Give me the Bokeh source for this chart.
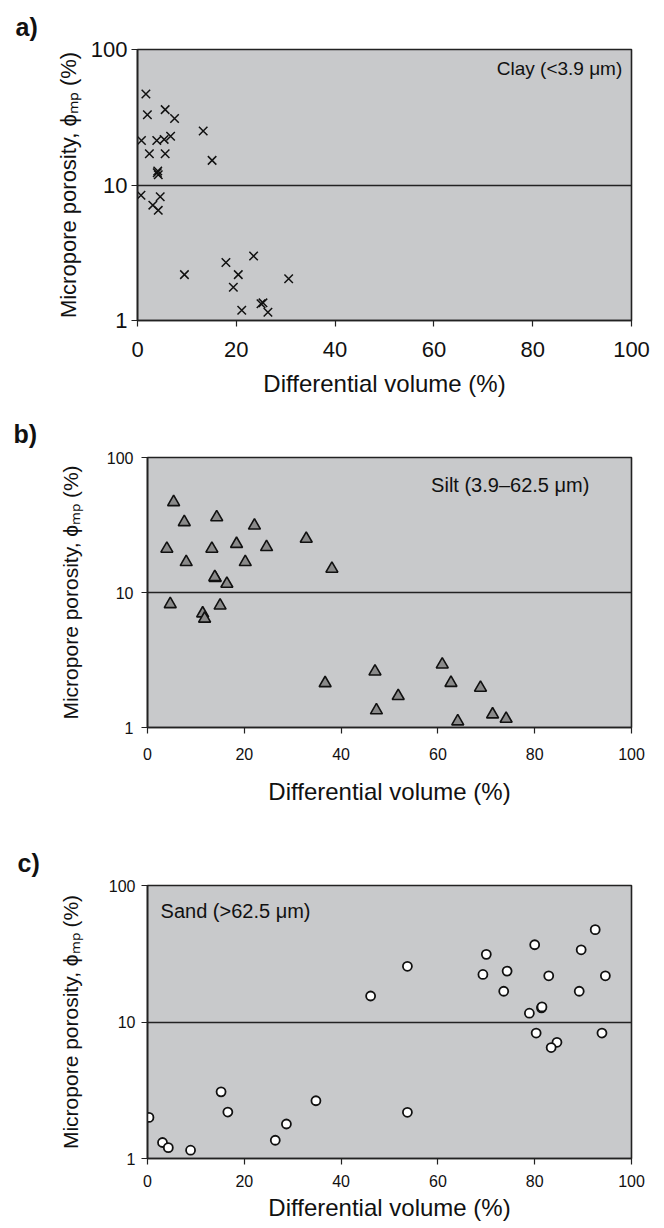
from bokeh.plotting import figure
from bokeh.layouts import column
from bokeh.models import FixedTicker, NumeralTickFormatter, Label, Range1d, Title
from bokeh.embed import file_html
from bokeh.resources import INLINE

# ---- data ----
clay_x = [1.7, 2.0, 5.6, 7.5, 13.3, 0.8, 3.9, 5.4, 6.7, 2.4, 5.6, 15.1, 4.1, 4.2, 4.0,
          0.7, 4.6, 3.1, 4.2, 9.5, 17.9, 20.4, 19.4, 23.5, 30.6, 21.1, 25.0, 25.4, 26.4]
clay_y = [47, 33, 36, 31, 25, 21.3, 21.3, 21.7, 22.9, 17, 17, 15.2, 12.7, 11.9, 12.3,
          8.4, 8.2, 7.1, 6.5, 2.18, 2.68, 2.18, 1.76, 2.99, 2.03, 1.19, 1.33, 1.35, 1.15]

silt_x = [5.4, 7.6, 14.3, 22.1, 4.0, 13.3, 18.4, 24.6, 32.8, 8.0, 20.2, 14.0, 13.9, 16.4,
          38.1, 4.7, 15.0, 11.4, 11.8, 36.7, 47.0, 47.3, 51.8, 60.9, 62.7, 68.8, 64.1, 71.3, 74.1]
silt_y = [46.7, 33.2, 36.1, 31.3, 21.1, 21.1, 22.9, 21.7, 25.0, 16.8, 16.8, 12.8, 13.0, 11.6,
          15.0, 8.2, 8.0, 7.0, 6.4, 2.13, 2.6, 1.34, 1.71, 2.93, 2.14, 1.97, 1.11, 1.25, 1.16]

sand_x = [0.3, 15.2, 16.6, 34.8, 28.7, 46.1, 3.1, 4.3, 8.9, 26.4, 53.7, 53.7, 70.0, 69.3,
          74.3, 73.6, 80.0, 82.9, 89.6, 92.5, 94.6, 89.2, 78.9, 81.4, 81.5, 80.3, 93.9, 84.6, 83.4]
sand_y = [2.0, 3.08, 2.19, 2.65, 1.79, 15.5, 1.31, 1.2, 1.15, 1.36, 25.6, 2.18, 31.3, 22.3,
          23.6, 16.8, 36.8, 21.8, 33.8, 47.5, 21.8, 16.8, 11.6, 12.7, 12.9, 8.3, 8.3, 7.1, 6.5]

x_ticks = [0, 20, 40, 60, 80, 100]
y_ticks = [1, 10, 100]

FONT = "Liberation Sans"
BG = "#c8c9cb"
YTITLE = "Micropore porosity, \u03d5\u2098\u209a (%)"
XTITLE = "Differential volume (%)"


def make_fig(width, height, b_top, b_bottom, b_left, b_right, tick_size,
             xl_standoff, xa_standoff, yl_standoff, ya_standoff, ytitle_size):
    p = figure(width=width, height=height, y_axis_type="log",
               x_range=Range1d(0, 100), y_range=Range1d(1, 100),
               output_backend="svg", toolbar_location=None,
               min_border_top=b_top, min_border_bottom=b_bottom,
               min_border_left=b_left, min_border_right=b_right)
    p.background_fill_color = BG
    p.border_fill_color = "white"
    p.outline_line_color = "#222222"
    p.outline_line_width = 1.6
    p.xgrid.visible = False
    p.ygrid.ticker = FixedTicker(ticks=y_ticks)
    p.ygrid.grid_line_color = "#222222"
    p.ygrid.grid_line_width = 1.3
    p.xaxis.ticker = FixedTicker(ticks=x_ticks)
    p.yaxis.ticker = FixedTicker(ticks=y_ticks)
    p.yaxis.formatter = NumeralTickFormatter(format="0")
    for ax in (p.xaxis, p.yaxis):
        ax.major_tick_in = 0
        ax.major_tick_out = 6
        ax.major_tick_line_width = 1.2
        ax.minor_tick_line_color = None
        ax.axis_line_color = "#222222"
        ax.axis_line_width = 1.6
        ax.major_tick_line_color = "#222222"
        ax.major_label_text_font = FONT
        ax.major_label_text_font_size = tick_size
        ax.major_label_text_color = "#111111"
        ax.axis_label_text_font = FONT
        ax.axis_label_text_font_style = "normal"
        ax.axis_label_text_color = "#111111"
    p.xaxis.axis_label = XTITLE
    p.yaxis.axis_label = YTITLE
    p.xaxis.axis_label_text_font_size = "24px"
    p.yaxis.axis_label_text_font_size = ytitle_size
    p.xaxis.major_label_standoff = xl_standoff
    p.xaxis.axis_label_standoff = xa_standoff
    p.yaxis.major_label_standoff = yl_standoff
    p.yaxis.axis_label_standoff = ya_standoff
    return p


def add_text(p, x, y, txt, align, size="20px"):
    p.add_layout(Label(x=x, y=y, text=txt, text_align=align, text_baseline="middle",
                       text_font=FONT, text_font_size=size, text_color="#111111"))


def add_panel_tag(p, txt, offset, standoff):
    p.add_layout(Title(text=txt, align="left", offset=offset, standoff=standoff,
                       text_font=FONT, text_font_size="25px", text_font_style="bold",
                       text_color="#111111"), "above")


# panel a
pa = make_fig(664, 405, 49, 85, 137, 33, "22px", 15, 10, 4, 7, "22px")
pa.scatter(clay_x, clay_y, marker="x", size=12, line_color="#111111", line_width=1.5)
add_text(pa, 99.2, 72.4, "Clay  (<3.9 \u03bcm)", "right", "19px")
add_panel_tag(pa, "a)", -122, 17)

# panel b
pb = make_fig(654, 410, 52, 88, 137, 31, "16px", 14, 15, 8, 22, "21px")
pb.margin = (0, 0, 0, 10)
pb.scatter(silt_x, silt_y, marker="triangle", size=12, fill_color="#8a8a8a",
           line_color="#111111", line_width=1.6)
add_text(pb, 58.6, 63, "Silt (3.9\u201362.5 \u03bcm)", "left")
add_panel_tag(pb, "b)", -134, 19)

# panel c
pc = make_fig(654, 413, 70, 70, 137, 31, "16px", 10, 4, 6, 24, "21px")
pc.margin = (0, 0, 0, 10)
pc.scatter(sand_x, sand_y, marker="circle", size=9, fill_color="white",
           line_color="#111111", line_width=1.8)
add_text(pc, 2.7, 64.5, "Sand (>62.5 \u03bcm)", "left")
add_panel_tag(pc, "c)", -130, 17)

layout = column(pa, pb, pc, spacing=0)
open("out.html", "w").write(file_html(layout, INLINE))
